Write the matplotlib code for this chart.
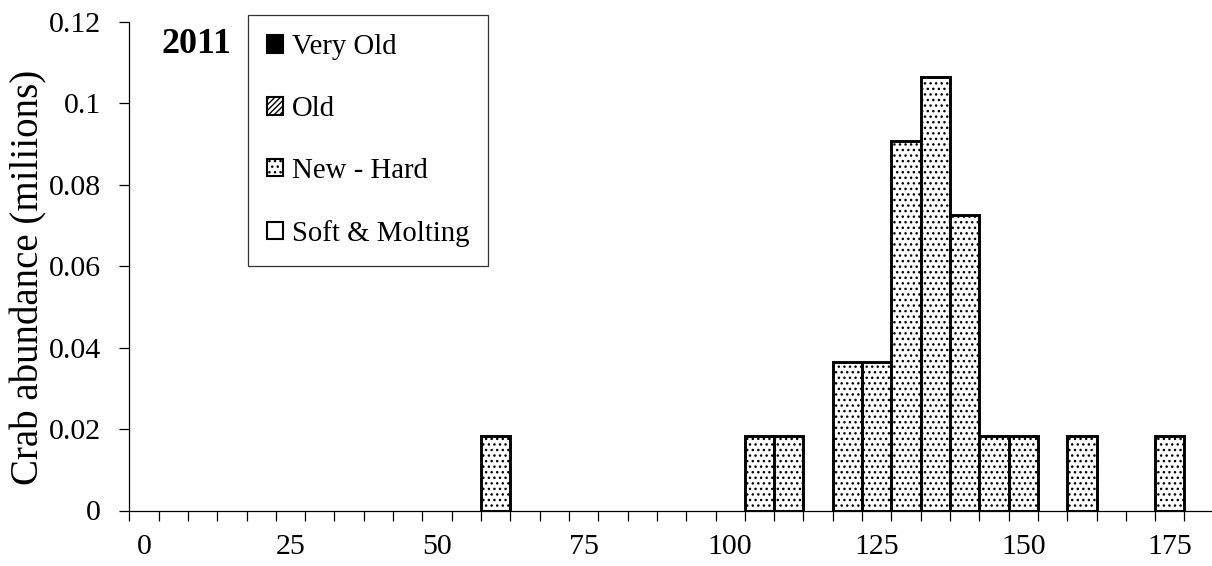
import numpy as np
import matplotlib
matplotlib.use("Agg")
import matplotlib.pyplot as plt
from matplotlib.patches import Patch

# ---- data ----
size_bins = [60, 105, 110, 120, 125, 130, 135, 140, 145, 150, 160, 175]
very_old = [0, 0, 0, 0, 0, 0, 0, 0, 0, 0, 0, 0]
old = [0, 0, 0, 0, 0, 0, 0, 0, 0, 0, 0, 0]
new_hard = [0.0182, 0.0182, 0.0182, 0.0365, 0.0364, 0.0908, 0.1065, 0.0727,
            0.0182, 0.0182, 0.0182, 0.0182]
soft_molting = [0, 0, 0, 0, 0, 0, 0, 0, 0, 0, 0, 0]
series_names = ["Very Old", "Old", "New - Hard", "Soft & Molting"]
x_tick_values = [0, 25, 50, 75, 100, 125, 150, 175]
y_tick_values = [0, 0.02, 0.04, 0.06, 0.08, 0.1, 0.12]
y_tick_labels = ["0", "0.02", "0.04", "0.06", "0.08", "0.1", "0.12"]
year_label = "2011"
y_title = "Crab abundance (miliions)"

plt.rcParams['font.family'] = ['Liberation Serif', 'DejaVu Serif']
plt.rcParams['hatch.linewidth'] = 1.0
plt.rcParams['hatch.color'] = 'black'

W, H = 1212, 566
fig = plt.figure(figsize=(W / 100, H / 100), dpi=100)
left_px, bottom_px, top_px = 129.3, 510.5, 22.0
ax = fig.add_axes([left_px / W, 1 - bottom_px / H, 1 - left_px / W,
                   (bottom_px - top_px) / H])

bin_w = 5
styles = [dict(facecolor='black', hatch=None),
          dict(facecolor='white', hatch='//////'),
          dict(facecolor='white', hatch='...'),
          dict(facecolor='white', hatch=None)]
series = [very_old, old, new_hard, soft_molting]
x = np.array(size_bins, dtype=float)
bottom = np.zeros(len(x))
for vals, st in zip(series, styles):
    v = np.array(vals, dtype=float)
    m = v > 0
    if m.any():
        ax.bar(x[m], v[m], width=bin_w, bottom=bottom[m], facecolor=st['facecolor'],
               hatch=st['hatch'], edgecolor='black', linewidth=2.1, zorder=3)
    bottom += v

ax.set_ylim(0, 0.12)
ax.set_xlim(-2.5, -2.5 + (W - left_px) / 29.31 * bin_w)
ax.spines['top'].set_visible(False)
ax.spines['right'].set_visible(False)
for s in ['left', 'bottom']:
    ax.spines[s].set_linewidth(0.9)

ax.set_yticks(y_tick_values)
ax.set_yticklabels(y_tick_labels)
ax.tick_params(axis='y', direction='out', length=7.2, width=0.9, labelsize=21.5, pad=13)

ax.set_xticks(x_tick_values)
ax.set_xticklabels([str(v) for v in x_tick_values])
ax.set_xticks(np.arange(-2.5, 180, bin_w), minor=True)
ax.tick_params(axis='x', which='major', length=0, labelsize=21.5, pad=17)
ax.tick_params(axis='x', which='minor', direction='out', length=7.2, width=0.9)

fig.text(29 / W, 1 - 277 / H, y_title, rotation=90, ha='center', va='center',
         fontsize=28)
fig.text(161.7 / W, 1 - 53.3 / H, year_label, fontsize=26, fontweight='bold',
         ha='left', va='baseline')

handles = [Patch(facecolor=st['facecolor'], hatch=st['hatch'], edgecolor='black',
                 linewidth=1.5) for st in styles]
leg = fig.legend(handles, series_names, loc='upper left',
                 bbox_to_anchor=(248.3 / W, 1 - 15 / H), bbox_transform=fig.transFigure,
                 borderaxespad=0, fontsize=20.7, handlelength=0.56, handleheight=0.56,
                 handletextpad=0.3, labelspacing=1.25, borderpad=0.66, fancybox=False,
                 frameon=True)
leg.get_frame().set_edgecolor('black')
leg.get_frame().set_linewidth(0.9)

fig.savefig("out.png", dpi=100)
